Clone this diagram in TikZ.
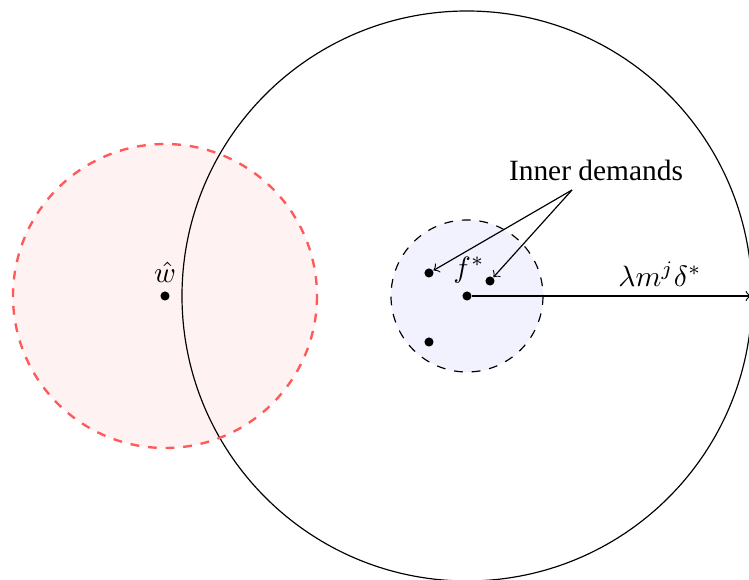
\documentclass[tikz,border=0pt]{standalone}
\usepackage{fontspec}
\setmainfont{Liberation Serif}
\begin{document}
\begin{tikzpicture}[x=0.34pt,y=-0.34pt,
  dot/.style={circle,fill=black,inner sep=0pt,minimum size=3.1pt},
  lbl/.style={inner sep=1pt}]
\useasboundingbox (0,0) rectangle (749,580);
% red region
\fill[red!5] (165,296) circle[radius=152];
% blue region
\fill[blue!5] (467,296) circle[radius=76];
% big circle
\draw (467,296) circle[radius=285];
% red dashed outline
\draw[red!65,thick,dashed] (165,296) circle[radius=152];
% small dashed circle
\draw[dashed] (467,296) circle[radius=76];
% points
\node[dot] (w) at (165,296) {};
\node[dot] (f) at (467,296) {};
\node[dot] (d1) at (429,273) {};
\node[dot] (d2) at (490,281) {};
\node[dot] (d3) at (429,342) {};
\node[lbl,anchor=south] (wl) at (165,286) {$\hat{w}$};
\node[lbl] (fl) at (469,270) {$f^{*}$};
\coordinate (rend) at (751,296);
\draw[->] (f) -- (rend);
\node[lbl] (rl) at (660,274) {$\lambda m^{j}\delta^{*}$};
\node[lbl] (inner) at (596,170) {Inner demands};
\coordinate (src) at (572,190);
\draw[->] (src) -- (d1);
\draw[->] (src) -- (d2);
\end{tikzpicture}
\end{document}
